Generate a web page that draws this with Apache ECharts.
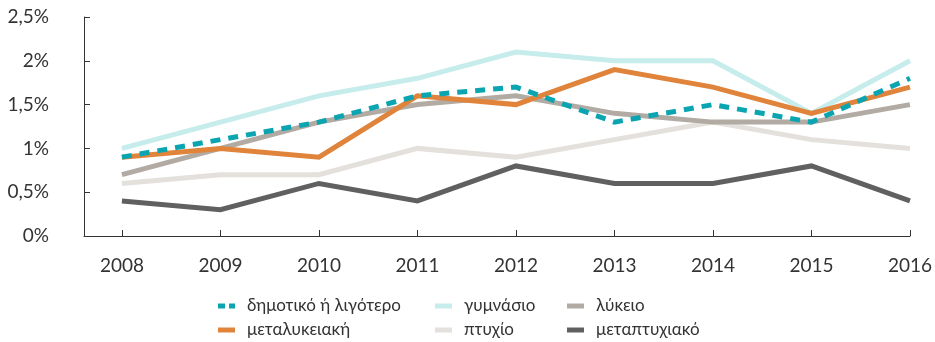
<!DOCTYPE html>
<html>
<head>
<meta charset="utf-8">
<script src="https://cdn.jsdelivr.net/npm/echarts@6/dist/echarts.min.js"></script>
<style>
  html, body { margin: 0; padding: 0; background: #fff; }
  #chart { width: 935px; height: 342px; }
</style>
</head>
<body>
<div id="chart"></div>
<script>
// Years on the horizontal axis
const years = [2008, 2009, 2010, 2011, 2012, 2013, 2014, 2015, 2016];

// Share (%) per education level
const dimotiko      = [0.9, 1.1, 1.3, 1.6, 1.7, 1.3, 1.5, 1.3, 1.8];
const gymnasio      = [1.0, 1.3, 1.6, 1.8, 2.1, 2.0, 2.0, 1.4, 2.0];
const lykeio        = [0.7, 1.0, 1.3, 1.5, 1.6, 1.4, 1.3, 1.3, 1.5];
const metalykeiaki  = [0.9, 1.0, 0.9, 1.6, 1.5, 1.9, 1.7, 1.4, 1.7];
const ptyxio        = [0.6, 0.7, 0.7, 1.0, 0.9, 1.1, 1.3, 1.1, 1.0];
const metaptyxiako  = [0.4, 0.3, 0.6, 0.4, 0.8, 0.6, 0.6, 0.8, 0.4];

const FONT = 'Lato, "Noto Sans", sans-serif';
const TEXT = '#333333';

// Legend swatches: a short bar, and a two-dash bar for the dashed series
const BAR_ICON = 'rect';
const DASH_ICON = 'path://M0,0H7V5H0Z M11,0H17V5H11Z';

function pairs(vals) { return years.map((y, i) => [y, vals[i]]); }

function lineSeries(name, vals, color, z, dashed) {
  return {
    name: name,
    type: 'line',
    data: pairs(vals),
    symbol: 'none',
    z: z,
    itemStyle: { color: color },
    lineStyle: { color: color, width: 5, type: dashed ? [10, 8] : 'solid', cap: 'butt', join: 'miter' },
    emphasis: { disabled: true },
    animation: false
  };
}

function legendCol(left, items) {
  return {
    orient: 'vertical',
    left: left,
    top: 296,
    padding: 0,
    itemGap: 4,
    itemWidth: 17,
    itemHeight: 5,
    data: items,
    textStyle: { fontFamily: FONT, fontSize: 17, lineHeight: 20, color: TEXT, padding: [0, 0, 0, 7] },
    selectedMode: false
  };
}

const chart = echarts.init(document.getElementById('chart'), null, { renderer: 'canvas' });
chart.setOption({
  backgroundColor: '#ffffff',
  animation: false,
  grid: { left: 84, right: 25, top: 17, bottom: 106, containLabel: false },
  legend: [
    legendCol(218, [{ name: 'δημοτικό ή λιγότερο', icon: DASH_ICON }, { name: 'μεταλυκειακή', icon: BAR_ICON }]),
    legendCol(435, [{ name: 'γυμνάσιο', icon: BAR_ICON }, { name: 'πτυχίο', icon: BAR_ICON }]),
    legendCol(567, [{ name: 'λύκειο', icon: BAR_ICON }, { name: 'μεταπτυχιακό', icon: BAR_ICON }])
  ],
  xAxis: {
    type: 'value',
    min: 2007.615,
    max: 2016,
    splitLine: { show: false },
    axisLine: { lineStyle: { color: TEXT, width: 1 } },
    axisTick: { inside: true, length: 6, lineStyle: { color: TEXT }, customValues: years },
    axisLabel: {
      customValues: years,
      margin: 20,
      fontFamily: FONT, fontSize: 19, color: TEXT,
      formatter: v => String(v)
    }
  },
  yAxis: {
    type: 'value',
    min: 0,
    max: 2.5,
    interval: 0.5,
    splitLine: { show: false },
    axisLine: { show: true, lineStyle: { color: TEXT, width: 1 } },
    axisTick: { show: true, inside: true, length: 6, lineStyle: { color: TEXT } },
    axisLabel: {
      margin: 35,
      fontFamily: FONT, fontSize: 19, color: TEXT,
      formatter: v => String(v).replace('.', ',') + '%'
    }
  },
  series: [
    lineSeries('γυμνάσιο', gymnasio, '#C6ECEC', 2),
    lineSeries('πτυχίο', ptyxio, '#E4E0DC', 3),
    lineSeries('λύκειο', lykeio, '#B2ABA3', 4),
    lineSeries('μεταλυκειακή', metalykeiaki, '#E0843C', 5),
    lineSeries('μεταπτυχιακό', metaptyxiako, '#606060', 6),
    lineSeries('δημοτικό ή λιγότερο', dimotiko, '#0BA5B1', 7, true)
  ]
});
</script>
</body>
</html>
